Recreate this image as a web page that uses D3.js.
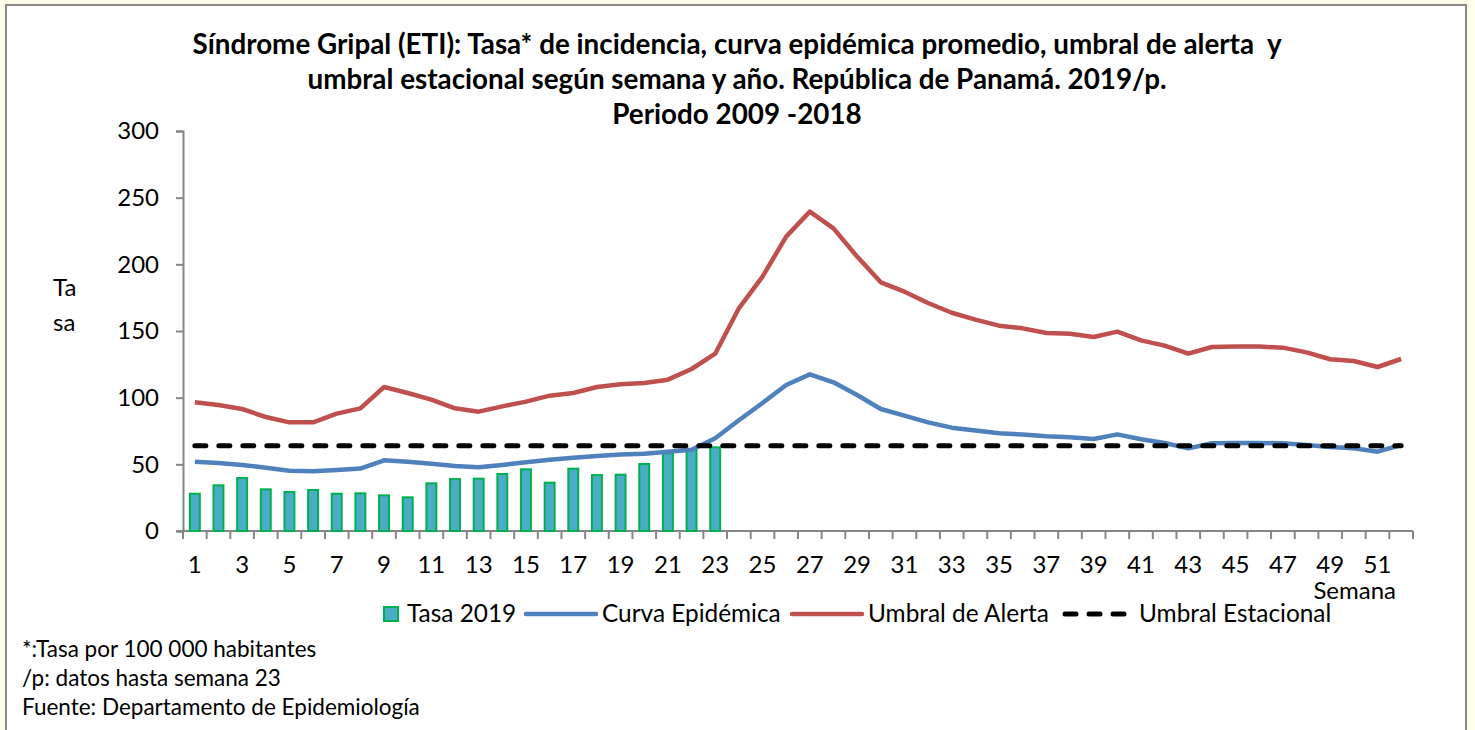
<!DOCTYPE html>
<html>
<head>
<meta charset="utf-8">
<script src="https://cdn.jsdelivr.net/npm/d3@7"></script>
<style>
  body { margin: 0; background: #fdfde9; }
  svg { display: block; font-family: Lato, "Open Sans", sans-serif; }
</style>
</head>
<body>
<div id="chart"></div>
<script>
// weeks 1..52
const weeks = d3.range(1, 53);

// Tasa 2019 (data up to week 23)
const tasa2019 = [28.7, 35, 40.5, 32, 30, 31.5, 28.7, 29, 27.5, 26, 36.5, 39.7,
  40, 43.5, 47, 37, 47.5, 42.7, 43, 51, 59, 62, 63.5];

const curvaEpidemica = [52, 51, 49.5, 47.5, 45.2, 44.8, 45.8, 46.8, 53, 52, 50.5, 48.7,
  47.8, 49.5, 51.5, 53.5, 55, 56.3, 57.3, 58, 59.5, 61, 69.5, 83, 96, 109.5,
  117.5, 111.5, 102, 91.5, 86.5, 81.5, 77.5, 75.3, 73.3, 72.3, 71, 70.3, 69, 72.5,
  68.8, 66, 62, 65.8, 66, 66, 65.8, 64.5, 63, 62, 59.5, 64.5];

const umbralAlerta = [96.5, 94.5, 91.5, 85.5, 81.5, 81.5, 88, 92, 108, 103.5, 98.5, 92,
  89.5, 93.5, 97, 101.5, 103.5, 108, 110, 111, 113.5, 121.5, 133, 167, 190.8, 220.8,
  239.5, 227, 205.8, 186.5, 179.5, 171, 163.7, 158.5, 154, 152, 148.5, 148, 145.5, 149.5,
  143, 139, 133, 138, 138.3, 138.3, 137.5, 134, 128.8, 127.5, 123, 129];

const umbralEstacional = 64;

const yTicks = [0, 50, 100, 150, 200, 250, 300];

const titleLines = [
  'Síndrome Gripal (ETI): Tasa* de incidencia, curva epidémica promedio, umbral de alerta  y',
  'umbral estacional según semana y año. República de Panamá. 2019/p.',
  'Periodo 2009 -2018'
];
const notes = [
  '*:Tasa por 100 000 habitantes',
  '/p: datos hasta semana 23',
  'Fuente: Departamento de Epidemiología'
];

const W = 1475, H = 730;
const margin = { left: 183, right: 62, top: 131, bottom: 199 };

const svg = d3.select('#chart').append('svg')
  .attr('width', W)
  .attr('height', H);

// frame
svg.append('rect')
  .attr('x', 6).attr('y', 5)
  .attr('width', 1460).attr('height', 740)
  .attr('fill', '#fff')
  .attr('stroke', '#8a8a8a')
  .attr('stroke-width', 2);

const x = d3.scaleBand()
  .domain(weeks)
  .range([margin.left, W - margin.right]);

const y = d3.scaleLinear()
  .domain([0, 300])
  .range([H - margin.bottom, margin.top]);

const axisColor = '#868686';

// title
svg.append('text')
  .attr('x', 737)
  .attr('text-anchor', 'middle')
  .style('font-weight', 'bold')
  .style('font-size', '27.8px')
  .style('white-space', 'pre')
  .selectAll('tspan')
  .data(titleLines)
  .join('tspan')
  .attr('x', 737)
  .attr('y', (d, i) => 54 + i * 35)
  .text(d => d);

// y axis
const yAxis = svg.append('g')
  .attr('transform', `translate(${margin.left},0)`)
  .call(d3.axisLeft(y).tickValues(yTicks).tickSize(7).tickPadding(17));
yAxis.select('.domain').attr('stroke', axisColor).attr('stroke-width', 2);
yAxis.selectAll('.tick line').attr('stroke', axisColor).attr('stroke-width', 2);
yAxis.selectAll('.tick text')
  .attr('fill', '#000')
  .style('font-size', '24px')
  .style('font-family', 'Lato');

// x axis (ticks at category boundaries)
const xg = svg.append('g')
  .attr('transform', `translate(0,${y(0)})`);
xg.append('line')
  .attr('x1', margin.left - 6).attr('x2', W - margin.right)
  .attr('stroke', axisColor).attr('stroke-width', 2);
xg.selectAll('line.tk')
  .data(weeks.concat([53]))
  .join('line')
  .attr('class', 'tk')
  .attr('x1', d => d === 53 ? x(52) + x.bandwidth() : x(d))
  .attr('x2', d => d === 53 ? x(52) + x.bandwidth() : x(d))
  .attr('y1', 0).attr('y2', 8)
  .attr('stroke', axisColor).attr('stroke-width', 2);
xg.selectAll('text')
  .data(weeks.filter(d => d % 2 === 1))
  .join('text')
  .attr('x', d => x(d) + x.bandwidth() / 2)
  .attr('y', 42)
  .attr('text-anchor', 'middle')
  .style('font-size', '24px')
  .text(d => d);

svg.append('text')
  .attr('x', 1396).attr('y', 599)
  .attr('text-anchor', 'end')
  .style('font-size', '24px')
  .text('Semana');

// y axis title
svg.append('text')
  .style('font-size', '24px')
  .selectAll('tspan')
  .data(['Ta', 'sa'])
  .join('tspan')
  .attr('x', 53)
  .attr('y', (d, i) => 296 + i * 35)
  .text(d => d);

// bars
const barW = x.bandwidth() * 0.42;
svg.append('g')
  .selectAll('rect')
  .data(tasa2019)
  .join('rect')
  .attr('x', (d, i) => x(i + 1) + (x.bandwidth() - barW) / 2)
  .attr('y', d => y(d) + 1)
  .attr('width', barW)
  .attr('height', d => y(0) - y(d) - 1)
  .attr('fill', '#4bacc6')
  .attr('stroke', '#00b050')
  .attr('stroke-width', 2);

const line = d3.line()
  .x((d, i) => x(i + 1) + x.bandwidth() / 2)
  .y(d => y(d));

svg.append('path')
  .datum(curvaEpidemica)
  .attr('d', line)
  .attr('fill', 'none')
  .attr('stroke', '#4f81bd')
  .attr('stroke-width', 4.5)
  .attr('stroke-linejoin', 'round');

svg.append('path')
  .datum(umbralAlerta)
  .attr('d', line)
  .attr('fill', 'none')
  .attr('stroke', '#c0504d')
  .attr('stroke-width', 4.5)
  .attr('stroke-linejoin', 'round');

svg.append('path')
  .datum(weeks.map(() => umbralEstacional))
  .attr('d', line)
  .attr('fill', 'none')
  .attr('stroke', '#000')
  .attr('stroke-width', 5)
  .attr('stroke-linecap', 'round')
  .attr('stroke-dasharray', '11,13');

// legend
const lg = svg.append('g').style('font-size', '24.4px');
lg.append('rect')
  .attr('x', 384).attr('y', 607).attr('width', 14).attr('height', 14)
  .attr('fill', '#4bacc6').attr('stroke', '#00b050').attr('stroke-width', 2);
lg.append('text').attr('x', 407).attr('y', 622).text('Tasa 2019');

lg.append('line').attr('x1', 526).attr('x2', 596).attr('y1', 614).attr('y2', 614)
  .attr('stroke', '#4f81bd').attr('stroke-width', 4.5).attr('stroke-linecap', 'round');
lg.append('text').attr('x', 602).attr('y', 622).text('Curva Epidémica');

lg.append('line').attr('x1', 792).attr('x2', 862).attr('y1', 614).attr('y2', 614)
  .attr('stroke', '#c0504d').attr('stroke-width', 4.5).attr('stroke-linecap', 'round');
lg.append('text').attr('x', 868).attr('y', 622).text('Umbral de Alerta');

lg.append('line').attr('x1', 1065).attr('x2', 1128).attr('y1', 614).attr('y2', 614)
  .attr('stroke', '#000').attr('stroke-width', 5).attr('stroke-linecap', 'round')
  .attr('stroke-dasharray', '11,13');
lg.append('text').attr('x', 1139).attr('y', 622).text('Umbral Estacional');

// notes
svg.append('g')
  .style('font-size', '22.5px')
  .selectAll('text')
  .data(notes)
  .join('text')
  .attr('x', 22)
  .attr('y', (d, i) => 657 + i * 29)
  .text(d => d);
</script>
</body>
</html>
